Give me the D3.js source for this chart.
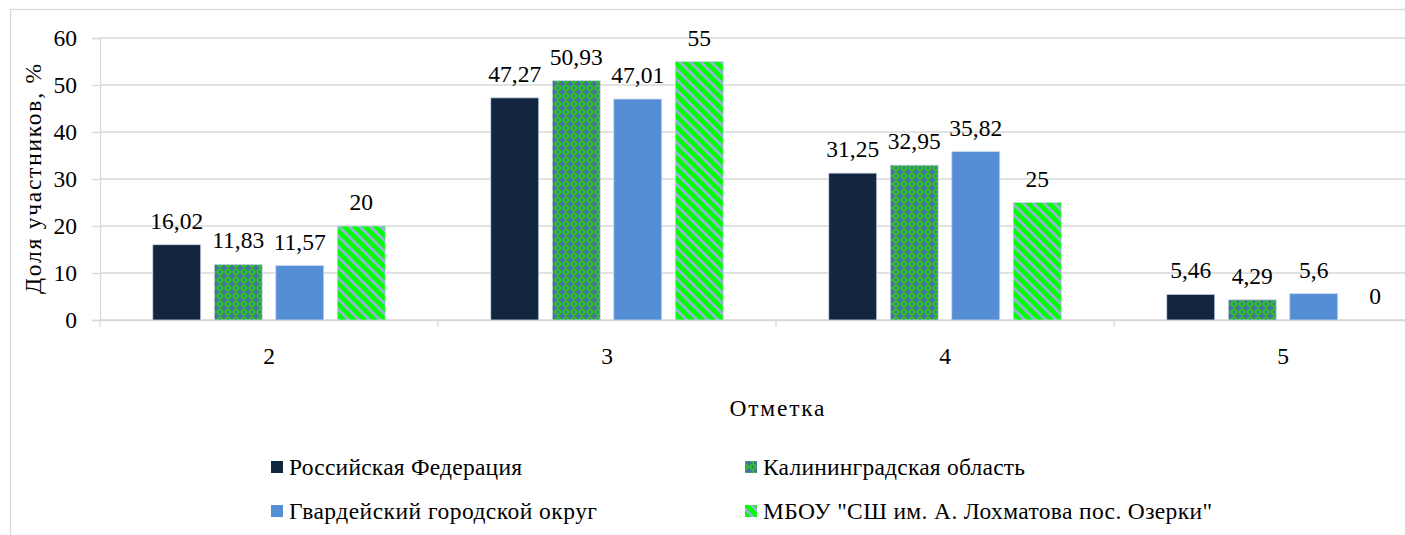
<!DOCTYPE html>
<html><head><meta charset="utf-8">
<script src="https://cdn.jsdelivr.net/npm/d3@7"></script>
<style>
html,body{margin:0;padding:0;background:#fff;}
svg{display:block;}
</style></head>
<body>
<svg id="chart" width="1405" height="535"></svg>
<script>
const categories = ["2", "3", "4", "5"];
const seriesNames = [
  "Российская Федерация",
  "Калининградская область",
  "Гвардейский городской округ",
  "МБОУ \"СШ им. А. Лохматова пос. Озерки\""
];
const russia = [16.02, 47.27, 31.25, 5.46];
const kaliningrad = [11.83, 50.93, 32.95, 4.29];
const gvardeysk = [11.57, 47.01, 35.82, 5.6];
const school = [20, 55, 25, 0];
const yTicks = [0, 10, 20, 30, 40, 50, 60];
const yTitle = "Доля участников, %";
const xTitle = "Отметка";

const FONT = "Liberation Serif, Tinos, Times New Roman, Times, serif";
const FS = 23.5;
const seriesValues = [russia, kaliningrad, gvardeysk, school];
const fills = ["#13263f", "url(#pKal)", "#558ed5", "url(#pSch)"];
const legendTextWidths = [233, 262, 308, 449];
const fmt = v => String(v).replace(".", ",");

const svg = d3.select("#chart").attr("font-family", FONT);
const defs = svg.append("defs");

const pK = defs.append("pattern").attr("id", "pKal").attr("patternUnits", "userSpaceOnUse")
  .attr("width", 8).attr("height", 8);
pK.append("rect").attr("width", 8).attr("height", 8).attr("fill", "#2fb83a");
pK.append("rect").attr("x", 1).attr("y", 3).attr("width", 6).attr("height", 2).attr("fill", "#4a6ea0");
pK.append("rect").attr("x", 3).attr("y", 1).attr("width", 2).attr("height", 6).attr("fill", "#4a6ea0");
[[0,0],[7,7],[7,0],[0,7]].forEach(p => pK.append("rect").attr("x", p[0]).attr("y", p[1])
  .attr("width", 1).attr("height", 1).attr("fill", "#4a6ea0"));

const pS = defs.append("pattern").attr("id", "pSch").attr("patternUnits", "userSpaceOnUse")
  .attr("width", 7.4).attr("height", 7.4).attr("patternTransform", "rotate(-45)");
pS.append("rect").attr("width", 7.4).attr("height", 7.4).attr("fill", "#00ff00");
pS.append("rect").attr("width", 2.8).attr("height", 7.4).attr("fill", "#95b3d7");

svg.append("rect").attr("x", 10.5).attr("y", 9.5).attr("width", 1500).attr("height", 600)
  .attr("fill", "none").attr("stroke", "#d9d9d9").attr("stroke-width", 1.3);

const left = 100, catW = 338;
const x0 = d3.scaleBand().domain(categories).range([left, left + catW * categories.length]);
const x1 = d3.scaleBand().domain(d3.range(seriesNames.length)).range([0, x0.bandwidth()])
  .paddingInner(0.22).paddingOuter(0.858);
const y = d3.scaleLinear().domain([0, 60]).range([320, 38]);

svg.append("g").selectAll("line").data(yTicks).join("line")
  .attr("x1", left).attr("x2", 1460)
  .attr("y1", d => y(d)).attr("y2", d => y(d))
  .attr("stroke", "#d9d9d9").attr("stroke-width", 1.3);

const yAxis = svg.append("g").attr("transform", `translate(${left},0)`)
  .call(d3.axisLeft(y).tickValues(yTicks).tickSize(8).tickPadding(15).tickFormat(d => d));
yAxis.attr("font-family", FONT).attr("font-size", FS);
yAxis.select(".domain").attr("stroke", "#d9d9d9").attr("stroke-width", 1.3);
yAxis.selectAll(".tick line").attr("stroke", "#d9d9d9").attr("stroke-width", 1.3);
yAxis.selectAll("text").attr("fill", "#000");

const xAxis = svg.append("g").attr("transform", `translate(0,${y(0)})`)
  .call(d3.axisBottom(x0).tickSize(0).tickPadding(27));
xAxis.attr("font-family", FONT).attr("font-size", FS);
xAxis.select(".domain").attr("stroke", "#d9d9d9").attr("stroke-width", 1.3);
xAxis.selectAll("text").attr("fill", "#000");
svg.append("g").selectAll("line").data(categories).join("line")
  .attr("x1", d => x0(d)).attr("x2", d => x0(d))
  .attr("y1", y(0)).attr("y2", y(0) + 7)
  .attr("stroke", "#d9d9d9").attr("stroke-width", 1.3);

const groups = svg.append("g").selectAll("g").data(categories).join("g")
  .attr("transform", d => `translate(${x0(d)},0)`);
groups.selectAll("rect").data((c, ci) => seriesValues.map((s, si) => ({si, v: s[ci]})))
  .join("rect")
  .attr("x", d => x1(d.si)).attr("width", x1.bandwidth())
  .attr("y", d => y(d.v)).attr("height", d => y(0) - y(d.v))
  .attr("fill", d => fills[d.si])
  .attr("stroke", d => d.v > 0 ? "#c9d6ea" : "none").attr("stroke-width", 0.8);
groups.selectAll("text").data((c, ci) => seriesValues.map((s, si) => ({si, v: s[ci]})))
  .join("text")
  .attr("x", d => x1(d.si) + x1.bandwidth() / 2)
  .attr("y", d => y(d.v) - 16)
  .attr("text-anchor", "middle").attr("font-size", FS).attr("fill", "#000")
  .text(d => fmt(d.v));

svg.append("text").attr("transform", `translate(41,${(y(0) + y(60)) / 2}) rotate(-90)`)
  .attr("text-anchor", "middle").attr("font-size", FS).attr("fill", "#000")
  .attr("textLength", 230).attr("lengthAdjust", "spacing").text(yTitle);
svg.append("text").attr("x", 777).attr("y", 416)
  .attr("text-anchor", "middle").attr("font-size", FS).attr("fill", "#000")
  .attr("textLength", 95).attr("lengthAdjust", "spacing").text(xTitle);

const legPos = [[271, 467], [745, 467], [271, 511], [745, 511]];
const leg = svg.append("g").selectAll("g").data(seriesNames).join("g")
  .attr("transform", (d, i) => `translate(${legPos[i][0]},${legPos[i][1]})`);
leg.append("rect").attr("x", 0).attr("y", -6).attr("width", 12).attr("height", 12)
  .attr("fill", (d, i) => fills[i]);
leg.append("text").attr("x", 18).attr("y", 8).attr("font-size", FS).attr("fill", "#000")
  .attr("textLength", (d, i) => legendTextWidths[i]).attr("lengthAdjust", "spacing")
  .text(d => d);
</script>
</body></html>
